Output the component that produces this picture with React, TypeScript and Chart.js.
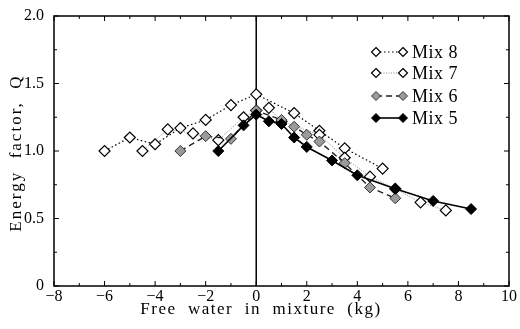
import React, { useEffect, useRef } from "react";
import { Chart, registerables } from "chart.js";

Chart.register(...registerables);

const seriesNames = ["Mix 8", "Mix 7", "Mix 6", "Mix 5"];

const mix8X = [-6, -5, -4, -3, -2, -1, 0, 1.5, 2.5, 3.5, 5];
const mix8Y = [1.0, 1.1, 1.05, 1.17, 1.23, 1.34, 1.42, 1.28, 1.15, 1.02, 0.87];

const mix7X = [-4.5, -3.5, -2.5, -1.5, -0.5, 0, 0.5, 1, 2.5, 3.5, 4.5, 5.5, 6.5, 7.5];
const mix7Y = [1.0, 1.16, 1.13, 1.08, 1.25, 1.3, 1.32, 1.22, 1.12, 0.95, 0.81, 0.72, 0.62, 0.56];

const mix6X = [-3, -2, -1, 0, 1, 1.5, 2, 2.5, 3.5, 4.5, 5.5];
const mix6Y = [1.0, 1.11, 1.09, 1.3, 1.23, 1.18, 1.12, 1.07, 0.91, 0.73, 0.65];

const mix5X = [-1.5, -0.5, 0, 0.5, 1, 1.5, 2, 3, 4, 5.5, 7, 8.5];
const mix5Y = [1.0, 1.19, 1.27, 1.22, 1.2, 1.1, 1.03, 0.93, 0.82, 0.72, 0.63, 0.57];

const xTickValues = [-8, -6, -4, -2, 0, 2, 4, 6, 8, 10];
const yTickValues = [0, 0.5, 1.0, 1.5, 2.0];

const xTitle = "Free  water  in  mixture  (kg)";
const yTitle = "Energy  factor,  Q";

const toPoints = (xs: number[], ys: number[]) => xs.map((x, i) => ({ x, y: ys[i] }));

const SERIF = "'Liberation Serif', 'Times New Roman', serif";

const framePlugin = {
  id: "framePlugin",
  beforeDatasetsDraw(chart: any) {
    const { ctx, chartArea, scales } = chart;
    const x0 = scales.x.getPixelForValue(0);
    ctx.save();
    ctx.strokeStyle = "#000";
    ctx.lineWidth = 1.5;
    ctx.beginPath();
    ctx.moveTo(x0, chartArea.top);
    ctx.lineTo(x0, chartArea.bottom);
    ctx.stroke();
    ctx.restore();
  },
  afterDraw(chart: any) {
    const { ctx, chartArea, scales } = chart;
    const { left, right, top, bottom } = chartArea;
    ctx.save();
    ctx.strokeStyle = "#000";
    ctx.lineWidth = 1.5;
    ctx.strokeRect(left, top, right - left, bottom - top);
    ctx.lineWidth = 1;
    ctx.beginPath();
    for (let v = -8; v <= 10; v += 1) {
      const px = scales.x.getPixelForValue(v);
      const len = v % 2 === 0 ? 5 : 3;
      ctx.moveTo(px, bottom);
      ctx.lineTo(px, bottom - len);
      ctx.moveTo(px, top);
      ctx.lineTo(px, top + len);
    }
    for (let i = 0; i <= 8; i++) {
      const v = i * 0.25;
      const py = scales.y.getPixelForValue(v);
      const len = i % 2 === 0 ? 5 : 3;
      ctx.moveTo(left, py);
      ctx.lineTo(left + len, py);
      ctx.moveTo(right, py);
      ctx.lineTo(right - len, py);
    }
    ctx.stroke();

    // axis titles
    ctx.fillStyle = "#000";
    (ctx as any).letterSpacing = "1.5px";
    ctx.font = `17px ${SERIF}`;
    ctx.textAlign = "center";
    ctx.textBaseline = "middle";
    ctx.fillText(xTitle, 261, 310);
    ctx.save();
    (ctx as any).letterSpacing = "2px";
    ctx.translate(17, 153);
    ctx.rotate(-Math.PI / 2);
    ctx.fillText(yTitle, 0, 0);
    ctx.restore();

    // legend
    (ctx as any).letterSpacing = "0.5px";
    const rowYs = [52, 73, 96, 118];
    const x1 = 376;
    const x2 = 403;
    chart.data.datasets.forEach((ds: any, i: number) => {
      const y = rowYs[i];
      ctx.save();
      ctx.strokeStyle = ds.borderColor;
      ctx.lineWidth = ds.borderWidth;
      ctx.setLineDash(ds.borderDash || []);
      ctx.beginPath();
      ctx.moveTo(x1, y);
      ctx.lineTo(x2, y);
      ctx.stroke();
      ctx.restore();
      for (const px of [x1, x2]) {
        ctx.beginPath();
        const r = 4.5;
        ctx.moveTo(px, y - r);
        ctx.lineTo(px + r, y);
        ctx.lineTo(px, y + r);
        ctx.lineTo(px - r, y);
        ctx.closePath();
        ctx.fillStyle = ds.pointBackgroundColor;
        ctx.fill();
        ctx.lineWidth = ds.pointBorderWidth;
        ctx.strokeStyle = ds.pointBorderColor;
        ctx.stroke();
      }
      ctx.fillStyle = "#000";
      ctx.font = `18px ${SERIF}`;
      ctx.textAlign = "left";
      ctx.textBaseline = "middle";
      ctx.fillText(ds.label, 412, y + 1);
    });
    ctx.restore();
  },
};

export default function App() {
  const canvasRef = useRef<HTMLCanvasElement | null>(null);

  useEffect(() => {
    if (!canvasRef.current) return;
    const common = {
      showLine: true,
      pointStyle: "rectRot",
      pointRadius: 5.5,
      pointHoverRadius: 5.5,
      tension: 0,
    };
    const chart = new Chart(canvasRef.current, {
      type: "scatter",
      data: {
        datasets: [
          {
            ...common,
            label: seriesNames[0],
            data: toPoints(mix8X, mix8Y),
            borderColor: "#000",
            borderWidth: 1.2,
            borderDash: [1.5, 2.5],
            pointBackgroundColor: "#fff",
            pointBorderColor: "#000",
            pointBorderWidth: 1.2,
            order: 3,
          },
          {
            ...common,
            label: seriesNames[1],
            data: toPoints(mix7X, mix7Y),
            borderColor: "#888",
            borderWidth: 1,
            borderDash: [1, 1.5],
            pointBackgroundColor: "#fff",
            pointBorderColor: "#000",
            pointBorderWidth: 1.2,
            order: 2,
          },
          {
            ...common,
            label: seriesNames[2],
            data: toPoints(mix6X, mix6Y),
            borderColor: "#222",
            borderWidth: 1.4,
            borderDash: [6, 4],
            pointBackgroundColor: "#9a9a9a",
            pointBorderColor: "#333",
            pointBorderWidth: 1,
            order: 1,
          },
          {
            ...common,
            label: seriesNames[3],
            data: toPoints(mix5X, mix5Y),
            borderColor: "#000",
            borderWidth: 1.6,
            pointBackgroundColor: "#000",
            pointBorderColor: "#000",
            pointBorderWidth: 1,
            order: 0,
          },
        ],
      } as any,
      options: {
        animation: false,
        responsive: false,
        devicePixelRatio: 1,
        layout: { padding: { top: 16, right: 11, left: 0, bottom: 0 } },
        plugins: {
          legend: { display: false },
          tooltip: { enabled: false },
          title: { display: false },
        },
        scales: {
          x: {
            type: "linear",
            min: -8,
            max: 10,
            grid: { display: false },
            border: { display: false },
            afterBuildTicks: (scale: any) => {
              scale.ticks = xTickValues.map((v) => ({ value: v }));
            },
            afterFit: (scale: any) => {
              scale.height = 43;
            },
            ticks: {
              autoSkip: false,
              maxRotation: 0,
              padding: -7,
              color: "#000",
              font: { family: SERIF, size: 16 },
              callback: (v: any) => (Number(v) < 0 ? "\u2212" + Math.abs(Number(v)) : String(v)),
            },
          },
          y: {
            type: "linear",
            min: 0,
            max: 2,
            grid: { display: false },
            border: { display: false },
            afterBuildTicks: (scale: any) => {
              scale.ticks = yTickValues.map((v) => ({ value: v }));
            },
            afterFit: (scale: any) => {
              scale.width = 54;
            },
            ticks: {
              autoSkip: false,
              padding: 2,
              color: "#000",
              font: { family: SERIF, size: 16 },
              callback: (v: any) => (Number(v) === 0 ? "0" : Number(v).toFixed(1)),
            },
          },
        },
      } as any,
      plugins: [framePlugin],
    });
    return () => chart.destroy();
  }, []);

  return (
    <div style={{ position: "fixed", left: 0, top: 0, width: 520, height: 329, background: "#fff" }}>
      <canvas ref={canvasRef} width={520} height={329} style={{ width: 520, height: 329, display: "block" }} />
    </div>
  );
}
